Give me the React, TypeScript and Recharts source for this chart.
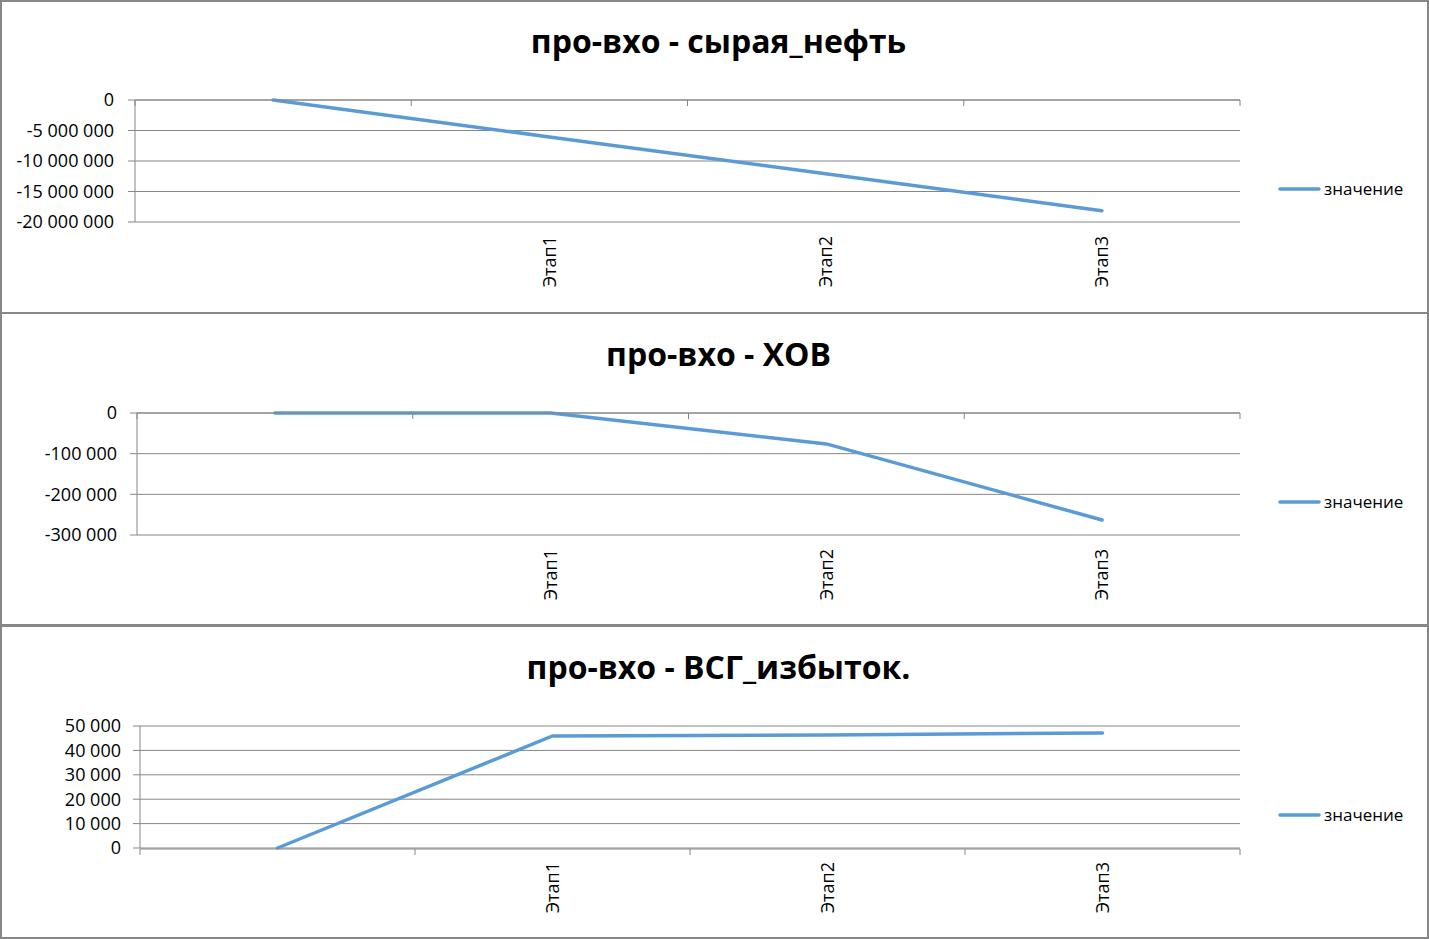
import React from "react";
import { LineChart, Line, XAxis, YAxis, CartesianGrid, Legend } from "recharts";

const categories = ["", "Этап1", "Этап2", "Этап3"];
const oilValues = [0, -6050000, -12100000, -18150000];
const hovValues = [0, 0, -76000, -263000];
const vsgValues = [0, 45900, 46300, 47150];

const oilTicks = [0, -5000000, -10000000, -15000000, -20000000];
const hovTicks = [0, -100000, -200000, -300000];
const vsgTicks = [0, 10000, 20000, 30000, 40000, 50000];

const titles = ["про-вхо - сырая_нефть", "про-вхо - ХОВ", "про-вхо - ВСГ_избыток."];
const seriesName = "значение";

const FONT = "'Open Sans', 'DejaVu Sans', sans-serif";
const GRID = "#868686";
const LINE = "#5B9BD5";
const W = 1429;
const H = 312;

const fmt = (n: number) => {
  const s = Math.abs(n).toString().replace(/\B(?=(\d{3})+(?!\d))/g, " ");
  return (n < 0 ? "-" : "") + s;
};

const XTick = (props: any) => {
  const { x, y, payload } = props;
  const label = categories[payload.value] ?? "";
  return (
    <text
      x={0}
      y={0}
      transform={`translate(${x},${y + 14}) rotate(-90)`}
      textAnchor="end"
      dy="0.35em"
      fontSize={18}
      fontFamily={FONT}
      fill="#000"
    >
      {label}
    </text>
  );
};

const LegendContent = () => (
  <svg width={150} height={24}>
    <line x1={2} y1={12} x2={41} y2={12} stroke={LINE} strokeWidth={3.5} strokeLinecap="round" />
    <text x={46} y={12} dy="0.35em" fontSize={17} fontFamily={FONT} fill="#000">
      {seriesName}
    </text>
  </svg>
);

type PanelProps = {
  top: number;
  title: string;
  values: number[];
  ticks: number[];
  plotLeft: number;
  tickMargin: number;
  axisTop: boolean;
};

const Panel = ({ top, title, values, ticks, plotLeft, tickMargin, axisTop }: PanelProps) => {
  const data = categories.map((c, i) => ({ i, name: c, v: values[i] }));
  const lo = Math.min(...ticks);
  const hi = Math.max(...ticks);
  const marginTop = 100;
  const marginBottom = axisTop ? 89 : 88;
  return (
    <div style={{ position: "absolute", left: 0, top, width: W, height: H }}>
      <div
        style={{
          position: "absolute",
          left: 0,
          width: 1437,
          top: 21,
          textAlign: "center",
          fontFamily: FONT,
          fontWeight: 700,
          fontSize: 32,
          lineHeight: "40px",
          color: "#000",
        }}
      >
        {title}
      </div>
      <div style={{ position: "absolute", left: 0, top: 0 }}>
        <LineChart
          width={W}
          height={H}
          data={data}
          margin={{ top: marginTop, bottom: marginBottom, left: 0, right: W - 1240 }}
        >
          <CartesianGrid vertical={false} stroke={GRID} strokeWidth={1} />
          <XAxis
            dataKey="i"
            type="number"
            domain={[-0.5, 3.5]}
            ticks={[0, 1, 2, 3]}
            axisLine={false}
            tickLine={false}
            tickSize={0}
            tickMargin={0}
            height={1}
            tick={<XTick />}
            interval={0}
          />
          <XAxis
            xAxisId="b"
            dataKey="i"
            type="number"
            domain={[-0.5, 3.5]}
            ticks={[-0.5, 0.5, 1.5, 2.5, 3.5]}
            orientation={axisTop ? "top" : "bottom"}
            mirror={axisTop}
            axisLine={{ stroke: GRID }}
            tickLine={{ stroke: GRID }}
            tickSize={6}
            height={1}
            tick={() => <g />}
            interval={0}
          />
          <YAxis
            type="number"
            domain={[lo, hi]}
            ticks={ticks}
            width={plotLeft}
            axisLine={{ stroke: GRID }}
            tickLine={{ stroke: GRID }}
            tickSize={7}
            tickMargin={tickMargin}
            tickFormatter={fmt}
            tick={{ fontSize: 18, fontFamily: FONT, fill: "#000" }}
            interval={0}
          />
          <Legend
            layout="vertical"
            verticalAlign="middle"
            align="center"
            content={<LegendContent />}
            wrapperStyle={{ position: "absolute", left: 1278, top: 177, width: 150, right: "auto", bottom: "auto" }}
          />
          <Line
            dataKey="v"
            name={seriesName}
            stroke={LINE}
            strokeWidth={3.5}
            strokeLinecap="round"
            dot={false}
            activeDot={false}
            isAnimationActive={false}
          />
        </LineChart>
      </div>
    </div>
  );
};

const Border = ({ top }: { top: number }) => (
  <div
    style={{
      position: "absolute",
      left: 0,
      top,
      width: W,
      height: 314,
      boxSizing: "border-box",
      border: "2px solid #878787",
      pointerEvents: "none",
    }}
  />
);

export default function App() {
  return (
    <div style={{ position: "absolute", left: 0, top: 0, width: W, height: 939, background: "#fff" }}>
      <Panel top={0} title={titles[0]} values={oilValues} ticks={oilTicks} plotLeft={135} tickMargin={14} axisTop={true} />
      <Panel top={313} title={titles[1]} values={hovValues} ticks={hovTicks} plotLeft={137} tickMargin={13} axisTop={true} />
      <Panel top={626} title={titles[2]} values={vsgValues} ticks={vsgTicks} plotLeft={140} tickMargin={12} axisTop={false} />
      <Border top={0} />
      <Border top={312} />
      <Border top={625} />
    </div>
  );
}
